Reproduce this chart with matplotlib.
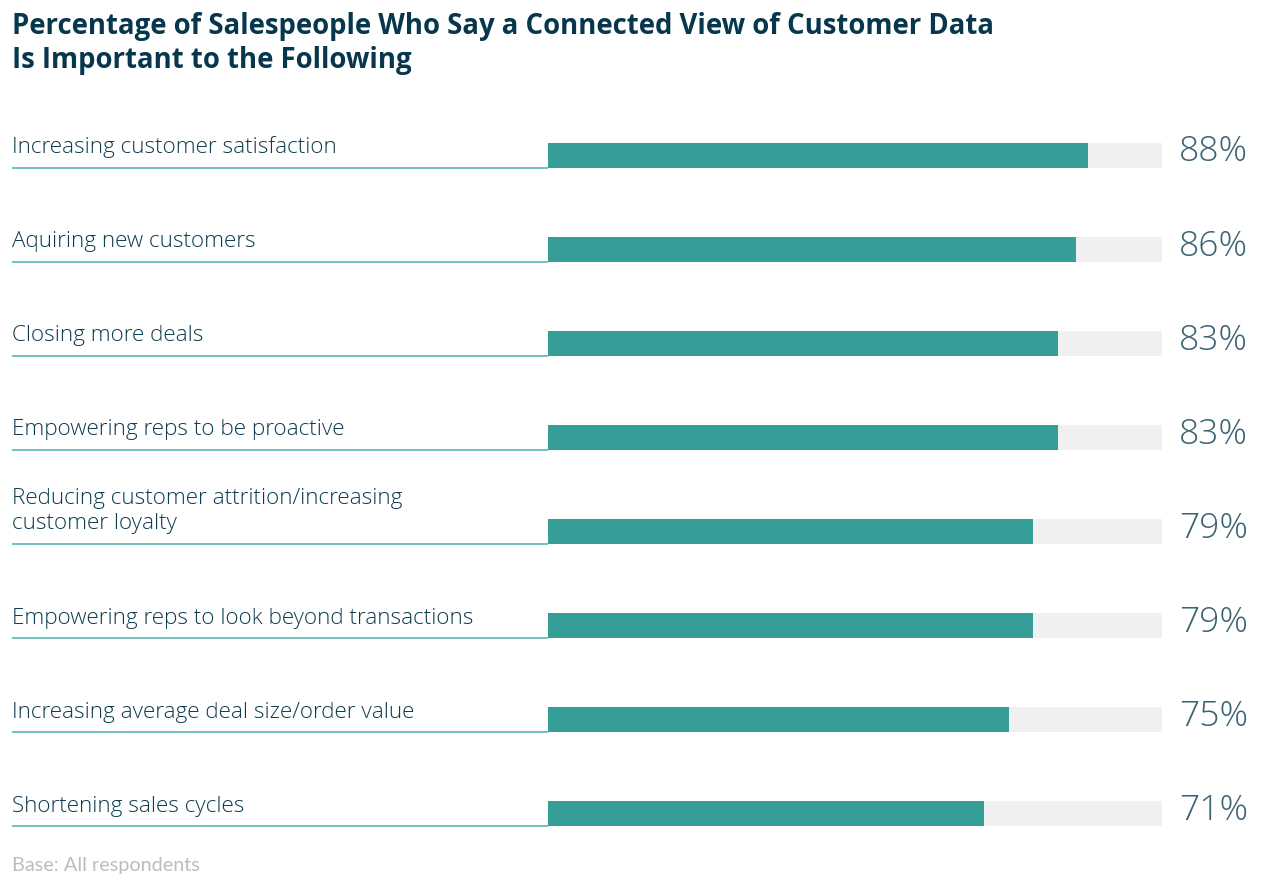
import matplotlib
matplotlib.use("Agg")
import matplotlib.pyplot as plt

title = "Percentage of Salespeople Who Say a Connected View of Customer Data\nIs Important to the Following"
categories = [
    "Increasing customer satisfaction",
    "Aquiring new customers",
    "Closing more deals",
    "Empowering reps to be proactive",
    "Reducing customer attrition/increasing\ncustomer loyalty",
    "Empowering reps to look beyond transactions",
    "Increasing average deal size/order value",
    "Shortening sales cycles",
]
values = [88, 86, 83, 83, 79, 79, 75, 71]
footnote = "Base: All respondents"

W, H = 1288, 890
fig = plt.figure(figsize=(W / 100, H / 100), dpi=100)

# axes spans from label start (x=12px) to bar end (x=1162px)
left_px, right_px = 12, 1162
bar0_px = 548
top_px, bot_px = 108, 861
ax = fig.add_axes([left_px / W, 1 - bot_px / H, (right_px - left_px) / W, (bot_px - top_px) / H])
xmin = -(bar0_px - left_px) * 100 / (right_px - bar0_px)
ax.set_xlim(xmin, 100)
ax.set_ylim(len(categories) - 0.5, -0.5)
ax.axis("off")

bar_h = 0.265
ys = list(range(len(categories)))
ax.barh(ys, [100] * len(ys), left=0, height=bar_h, color="#f0f0f0", zorder=1)
ax.barh(ys, values, left=0, height=bar_h, color="#359e96", zorder=2)

for y, cat, v in zip(ys, categories, values):
    ax.plot([xmin, 0], [y + bar_h / 2, y + bar_h / 2], color="#5bb8b0", lw=1.2,
            clip_on=False, zorder=3, solid_capstyle="butt")
    ax.text(xmin, y + 0.03, cat, ha="left", va="bottom", fontsize=16.2,
            family="Open Sans", fontweight="light", color="#0d3b4f", linespacing=1.25)
    ax.text(102.8, y - 0.03, f"{v}%", ha="left", va="center", fontsize=25.5,
            family="Open Sans", fontweight="light", color="#3a6373")

fig.text(12 / W, 1 - 12 / H, title, ha="left", va="top", fontsize=19.8,
         family="Open Sans", fontweight="bold", color="#06374d", linespacing=1.22)
fig.text(12 / W, 1 - 865 / H, footnote, ha="left", va="center", fontsize=14.3,
         family="Lato", color="#c2bbb7")

fig.savefig("out.png", dpi=100)
